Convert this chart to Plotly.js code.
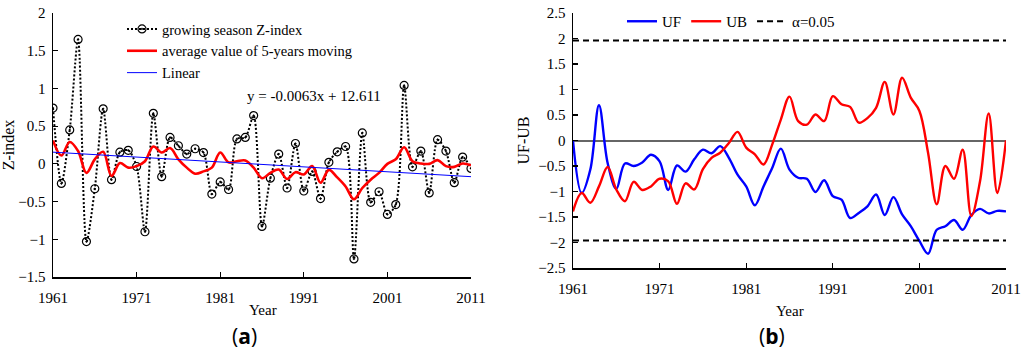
<!DOCTYPE html>
<html>
<head>
<meta charset="utf-8">
<script src="https://cdn.plot.ly/plotly-3.0.1.min.js"></script>
<style>html,body{margin:0;padding:0;background:#fff;}#chart{width:1024px;height:356px;}</style>
</head>
<body>
<div id="chart"></div>
<script>
// ---- Data ----
const years = [];
for (let y = 1961; y <= 2011; y++) years.push(y);

// Panel (a): growing season Z-index
const zIndex = [0.74, -0.26, 0.45, 1.65, -1.03, -0.33, 0.73, -0.21, 0.155, 0.18,
  -0.035, -0.90, 0.67, -0.17, 0.35, 0.24, 0.13, 0.20, 0.15, -0.40,
  -0.24, -0.34, 0.33, 0.35, 0.64, -0.83, -0.19, 0.13, -0.32, 0.27,
  -0.36, -0.10, -0.46, 0.02, 0.16, 0.23, -1.26, 0.41, -0.51, -0.37,
  -0.67, -0.54, 1.04, -0.04, 0.17, -0.385, 0.32, 0.17, -0.25, 0.09, -0.06];

// Panel (a): average value of 5-years moving
const movingAvg = [0.31, 0.11, 0.29, 0.17, -0.12, 0.06, 0.16, -0.16, 0.01, -0.05,
  -0.03, 0.035, 0.23, 0.15, 0.21, 0.06, -0.05, -0.13, -0.10, -0.05,
  0.15, 0.02, 0.035, 0.045, -0.05, -0.19, -0.12, -0.075, -0.20, -0.11,
  -0.14, -0.03, -0.25, -0.08, -0.18, -0.30, -0.47, -0.32, -0.21, -0.12,
  0.0, 0.06, 0.22, 0.035, 0.005, 0.0, 0.05, -0.03, -0.04, 0.005, -0.02];

// Panel (a): linear trend end points
const linearYears = [1961, 2011];
const linearValues = [0.155, -0.17];
const equationText = 'y = -0.0063x + 12.611';

// Panel (b): Mann-Kendall UF / UB
const uf = [0, -1.03, -0.57, 0.69, -0.44, -0.95, -0.45, -0.50, -0.43, -0.28,
  -0.41, -0.97, -0.49, -0.61, -0.37, -0.18, -0.25, -0.11, -0.34, -0.67,
  -0.90, -1.27, -0.90, -0.54, -0.16, -0.57, -0.73, -0.75, -1.01, -0.78,
  -1.09, -1.16, -1.52, -1.42, -1.29, -1.06, -1.46, -1.11, -1.45, -1.68,
  -1.97, -2.22, -1.75, -1.68, -1.56, -1.75, -1.46, -1.34, -1.43, -1.38, -1.39];

const ub = [-1.39, -1.03, -1.22, -0.90, -0.52, -0.96, -1.19, -0.81, -0.97, -0.90,
  -0.75, -0.80, -1.24, -0.84, -0.96, -0.56, -0.34, -0.24, -0.05, 0.17,
  -0.14, -0.27, -0.47, -0.08, 0.41, 0.86, 0.38, 0.31, 0.51, 0.38,
  0.87, 0.71, 0.66, 0.35, 0.44, 0.64, 1.15, 0.51, 1.23, 0.84,
  0.58, -0.24, -1.25, -0.50, -0.75, -0.18, -1.48, -0.80, 0.53, -1.03, 0];

const alphaYears = [1961, 2011];
const alphaLevel = 1.96;

const xTicks = [1961, 1971, 1981, 1991, 2001, 2011];

// ---- Traces ----
const serif = 'Liberation Serif, Times New Roman, serif';
const traces = [
  {x: years, y: zIndex, xaxis: 'x', yaxis: 'y', type: 'scatter', mode: 'lines+markers',
   name: 'growing season Z-index', legend: 'legend',
   line: {color: '#000', width: 2, dash: '2px,2px', shape: 'spline', smoothing: 0.8},
   marker: {symbol: 'circle-open-dot', size: 8, color: '#000', line: {width: 1.2, color: '#000'}}},
  {x: years, y: movingAvg, xaxis: 'x', yaxis: 'y', type: 'scatter', mode: 'lines',
   name: 'average value of 5-years moving', legend: 'legend',
   line: {color: '#ff0000', width: 2.6, shape: 'spline', smoothing: 1}},
  {x: linearYears, y: linearValues, xaxis: 'x', yaxis: 'y', type: 'scatter', mode: 'lines',
   name: 'Linear', legend: 'legend',
   line: {color: '#0000ff', width: 1}},
  {x: years, y: uf, xaxis: 'x2', yaxis: 'y2', type: 'scatter', mode: 'lines',
   name: 'UF', legend: 'legend2',
   line: {color: '#0000ff', width: 2.4, shape: 'spline', smoothing: 1}},
  {x: years, y: ub, xaxis: 'x2', yaxis: 'y2', type: 'scatter', mode: 'lines',
   name: 'UB', legend: 'legend2',
   line: {color: '#ff0000', width: 2.4, shape: 'spline', smoothing: 1}},
  {x: alphaYears, y: [alphaLevel, alphaLevel], xaxis: 'x2', yaxis: 'y2', type: 'scatter', mode: 'lines',
   name: 'α=0.05', legend: 'legend2',
   line: {color: '#000', width: 2, dash: '6px,4px'}},
  {x: alphaYears, y: [-alphaLevel, -alphaLevel], xaxis: 'x2', yaxis: 'y2', type: 'scatter', mode: 'lines',
   name: 'α=0.05', showlegend: false,
   line: {color: '#000', width: 2, dash: '6px,4px'}}
];

const axisCommon = {
  showgrid: false, showline: true, linecolor: '#000', linewidth: 1.5,
  ticks: 'inside', ticklen: 5, tickwidth: 1.2, tickcolor: '#000',
  tickfont: {family: serif, size: 15, color: '#000'}, fixedrange: true
};

const layout = {
  width: 1024, height: 356,
  margin: {l: 0, r: 0, t: 0, b: 0},
  paper_bgcolor: '#fff', plot_bgcolor: '#fff',
  showlegend: true,
  xaxis: Object.assign({}, axisCommon, {domain: [53/1024, 471/1024], range: [1961, 2011],
    tickvals: xTicks, ticktext: xTicks.map(String), ticklabelstandoff: 6, anchor: 'y', zeroline: false}),
  yaxis: Object.assign({}, axisCommon, {domain: [1 - 277/356, 1 - 13/356], range: [-1.5, 2],
    dtick: 0.5, tick0: 0, anchor: 'x', zeroline: false, ticklabelstandoff: 3,
    title: {text: 'Z-index', font: {family: serif, size: 16, color: '#000'}, standoff: 8}}),
  xaxis2: Object.assign({}, axisCommon, {domain: [573/1024, 1006/1024], range: [1961, 2011],
    tickvals: xTicks, ticktext: xTicks.map(String), ticklabelstandoff: 6, anchor: 'y2', zeroline: false}),
  yaxis2: Object.assign({}, axisCommon, {domain: [1 - 268/356, 1 - 13/356], range: [-2.5, 2.5],
    dtick: 0.5, tick0: 0, anchor: 'x2', zeroline: true, zerolinecolor: '#666', zerolinewidth: 2,
    ticklabelstandoff: 3,
    title: {text: 'UF-UB', font: {family: serif, size: 16, color: '#000'}, standoff: 4}}),
  legend: {x: 122/1024, y: 1 - 13/356, xanchor: 'left', yanchor: 'top', orientation: 'v',
    bgcolor: 'rgba(0,0,0,0)', font: {family: serif, size: 14.5, color: '#000'},
    tracegroupgap: 0, itemwidth: 30},
  legend2: {x: 622/1024, y: 1 - 5/356, xanchor: 'left', yanchor: 'top', orientation: 'h',
    bgcolor: 'rgba(0,0,0,0)', font: {family: serif, size: 15, color: '#000'}},
  annotations: [
    {text: equationText, xref: 'x', yref: 'y', x: 1992.2, y: 0.90, xanchor: 'center', yanchor: 'middle',
     showarrow: false, font: {family: serif, size: 15, color: '#000'}},
    {text: 'Year', xref: 'paper', yref: 'paper', x: 263/1024, y: 1 - 310/356, xanchor: 'center', yanchor: 'middle',
     showarrow: false, font: {family: serif, size: 15, color: '#000'}},
    {text: 'Year', xref: 'paper', yref: 'paper', x: 790/1024, y: 1 - 311/356, xanchor: 'center', yanchor: 'middle',
     showarrow: false, font: {family: serif, size: 15, color: '#000'}},
    {text: '(<b>a</b>)', xref: 'paper', yref: 'paper', x: 244/1024, y: 1 - 336/356, xanchor: 'center', yanchor: 'middle',
     showarrow: false, font: {family: 'Open Sans, Noto Sans, sans-serif', size: 21, color: '#000'}},
    {text: '(<b>b</b>)', xref: 'paper', yref: 'paper', x: 772/1024, y: 1 - 336/356, xanchor: 'center', yanchor: 'middle',
     showarrow: false, font: {family: 'Open Sans, Noto Sans, sans-serif', size: 21, color: '#000'}}
  ]
};

Plotly.newPlot('chart', traces, layout, {staticPlot: true, displayModeBar: false});
</script>
</body>
</html>
